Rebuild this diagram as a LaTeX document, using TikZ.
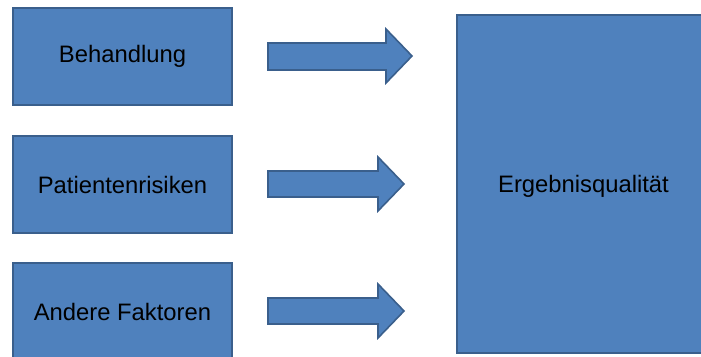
\documentclass[tikz,border=0pt]{standalone}
\usepackage{fontspec}
\setmainfont{Liberation Sans}
\definecolor{boxfill}{HTML}{4F81BD}
\definecolor{boxline}{HTML}{3A5F8C}
\begin{document}
\begin{tikzpicture}[x=1pt,y=-1pt,
  blockbox/.style={draw=boxline,fill=boxfill,line width=1.6pt,inner sep=0pt,
    font=\fontsize{23.8}{28}\selectfont,text=black},
  blocklabel/.style={inner sep=0pt,font=\fontsize{23.8}{28}\selectfont,text=black},
  blockarrow/.style={draw=boxline,fill=boxfill,line width=1.6pt,line join=miter}]
\useasboundingbox (0,0) rectangle (701,356);
\begin{scope}
\clip (0,0) rectangle (701,356);
\node[blockbox,minimum width=219pt,minimum height=97pt] (beh) at (122.5,56.5) {Behandlung};
\node[blockbox,minimum width=219pt,minimum height=97pt] (pat) at (122.5,184.5) {Patientenrisiken};
\node[blockbox,minimum width=219pt,minimum height=97pt] (and) at (122.5,311.5) {Andere Faktoren};
\node[blockbox,minimum width=300pt,minimum height=338pt,anchor=west] (erg) at (456,184) {};
\node[blocklabel] (ergtext) at (583.5,186) {Ergebnisqualität};
\draw[blockarrow] (268,43) -- (386,43) -- (386,29) -- (412,56) -- (386,83) -- (386,70) -- (268,70) -- cycle;
\draw[blockarrow] (268,171) -- (378,171) -- (378,157) -- (404,184) -- (378,211) -- (378,197) -- (268,197) -- cycle;
\draw[blockarrow] (268,298) -- (378,298) -- (378,284) -- (404,311) -- (378,338) -- (378,324) -- (268,324) -- cycle;
\end{scope}
\end{tikzpicture}
\end{document}
